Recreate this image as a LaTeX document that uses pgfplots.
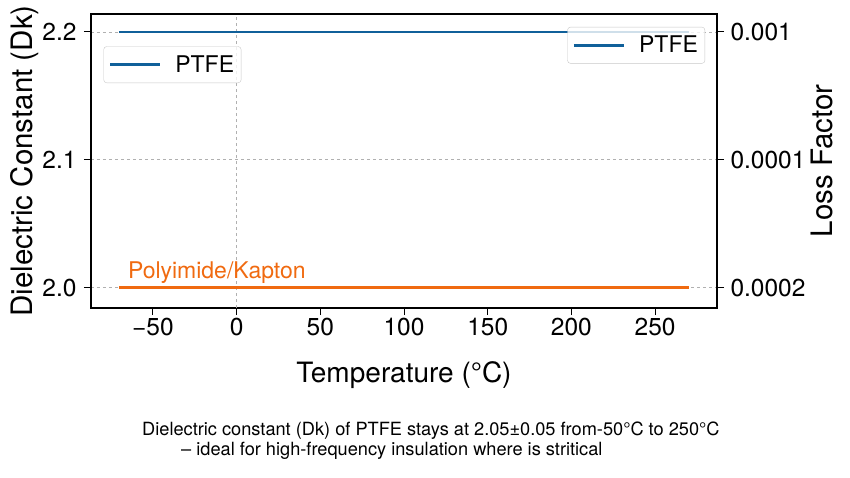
\documentclass[border=0pt]{standalone}
\usepackage{pgfplots}
\pgfplotsset{compat=1.18}
\usepackage{fontspec}
\setmainfont{TeX Gyre Heros}
\definecolor{ptfe}{HTML}{10609A}
\definecolor{kap}{HTML}{F06A10}
\definecolor{gridc}{HTML}{B0B0B0}
\pgfplotsset{
  common/.style={
    scale only axis, width=626pt, height=294pt,
    xmin=-87, xmax=287, ymin=1.984, ymax=2.214,
    tick align=outside, major tick length=7pt,
    every tick/.style={black, line width=1pt},
    axis line style={line width=1.2pt},
    tick label style={font=\fontsize{24.5}{24.5}\selectfont},
    ytick={2.0,2.1,2.2},
    legend cell align=left,
    legend image code/.code={\draw[#1] (0pt,0pt) -- (50pt,0pt);},
  },
  lg/.style={draw=gridc!70, rounded corners=3pt, fill=white, fill opacity=0.8, text opacity=1,
    font=\fontsize{23}{23}\selectfont, inner xsep=5pt, inner ysep=7pt, column sep=12pt},
}
\begin{document}
\begin{tikzpicture}
\path[use as bounding box] (-91pt,-169pt) rectangle (759pt,308pt);
\begin{axis}[common,
  axis x line=none, axis y line*=right,
  yticklabels={0.0002,0.0001,0.001},
  yticklabel style={xshift=3pt},
  ylabel={Loss Factor},
  ylabel style={font=\fontsize{29.5}{29.5}\selectfont, at={(axis description cs:1.168,0.5)}, anchor=center},
]
\addplot[draw=none, forget plot] coordinates {(0,2.1)};
\end{axis}
\begin{axis}[common,
  xtick pos=bottom, ytick pos=left,
  xtick={-50,0,50,100,150,200,250},
  xticklabels={−50,0,50,100,150,200,250},
  yticklabels={2.0,2.1,2.2},
  yticklabel style={xshift=-4pt},
  ymajorgrids, major grid style={dashed, gridc, line width=0.6pt},
  xlabel={Temperature (°C)}, ylabel={Dielectric Constant (Dk)},
  xlabel style={font=\fontsize{28}{28}\selectfont, at={(axis description cs:0.5,-0.228)}, anchor=center},
  ylabel style={font=\fontsize{29.5}{29.5}\selectfont, at={(axis description cs:-0.106,0.5)}, anchor=center},
  legend style={lg, at={(0.02,0.89)}, anchor=north west},
]
\addplot[dashed, gridc, line width=0.6pt, forget plot] coordinates {(0,1.984) (0,2.214)};
\addplot[color=ptfe, solid, line width=2.6pt] coordinates {(-70,2.2) (270,2.2)};
\addlegendentry{PTFE}
\addplot[color=kap, solid, line width=2.2pt, forget plot] coordinates {(-70,2.0) (270,2.0)};
\node[anchor=base west, text=kap, font=\fontsize{23}{23}\selectfont, inner sep=0pt] at (axis cs:-65,2.007) {Polyimide/Kapton};
\end{axis}
\begin{axis}[common, hide axis,
  legend style={lg, at={(0.981,0.956)}, anchor=north east},
]
\addlegendimage{color=ptfe, solid, line width=2.6pt}
\addlegendentry{PTFE}
\end{axis}
\node[anchor=base west, font=\fontsize{18.2}{18.2}\selectfont, inner sep=0pt] at (51pt,-127pt) {Dielectric constant (Dk) of PTFE stays at 2.05±0.05 from-50°C to 250°C};
\node[anchor=base west, font=\fontsize{18.2}{18.2}\selectfont, inner sep=0pt] at (90pt,-147pt) {– ideal for high-frequency insulation where is stritical};
\end{tikzpicture}
\end{document}
